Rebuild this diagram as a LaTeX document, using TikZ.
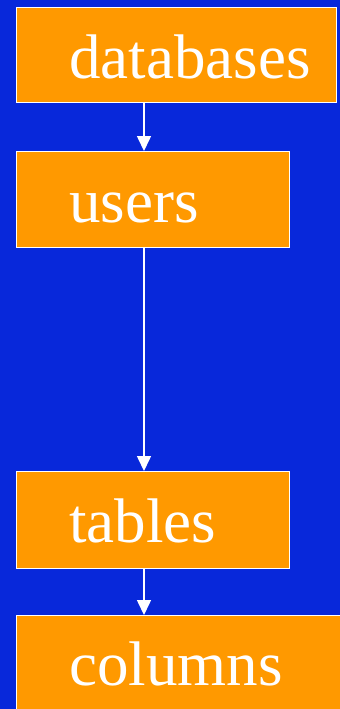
\documentclass[tikz,border=0pt]{standalone}
\usepackage{fontspec}
\setmainfont{Liberation Serif}
\usetikzlibrary{arrows.meta,positioning}
\definecolor{slideblue}{RGB}{8,40,218}
\definecolor{boxorange}{RGB}{255,153,0}
\tikzset{
  level/.style={draw=white, line width=0.7pt, fill=boxorange, anchor=north west,
                inner sep=0pt, minimum width=#1},
  lvltext/.style={anchor=base west, text=white, inner sep=0pt,
                  font=\fontsize{31.5}{36}\selectfont},
  down/.style={draw=white, line width=0.75pt, -{Triangle[width=7pt,length=7.5pt]}},
}

\begin{document}
\begin{tikzpicture}[x=0.5pt, y=-0.5pt]

% slide background
\fill[slideblue] (0,0) rectangle (340,709);
\useasboundingbox (0,0) rectangle (340,709);

% the four levels
\node[level=160pt, minimum height=47.5pt] (db) at (16,7) {};
\node[level=136.5pt, minimum height=48pt] (users) at (16,151) {};
\node[level=136.5pt, minimum height=48.5pt] (tables) at (16,471) {};
\node[level=170pt, minimum height=60pt] (columns) at (16,615) {};

\node[lvltext] (dbtext) at ([xshift=26.5pt,yshift=-35.5pt]db.north west) {databases};
\node[lvltext] (userstext) at ([xshift=26.5pt,yshift=-35.5pt]users.north west) {users};
\node[lvltext] (tablestext) at ([xshift=26.5pt,yshift=-35.5pt]tables.north west) {tables};
\node[lvltext] (columnstext) at ([xshift=26.5pt,yshift=-35pt]columns.north west) {columns};

% arrows all run down one line
\coordinate (spine) at (144,0);
\draw[down] (db.south -| spine) -- (users.north -| spine);
\draw[down] (users.south -| spine) -- (tables.north -| spine);
\draw[down] (tables.south -| spine) -- (columns.north -| spine);

\end{tikzpicture}
\end{document}
